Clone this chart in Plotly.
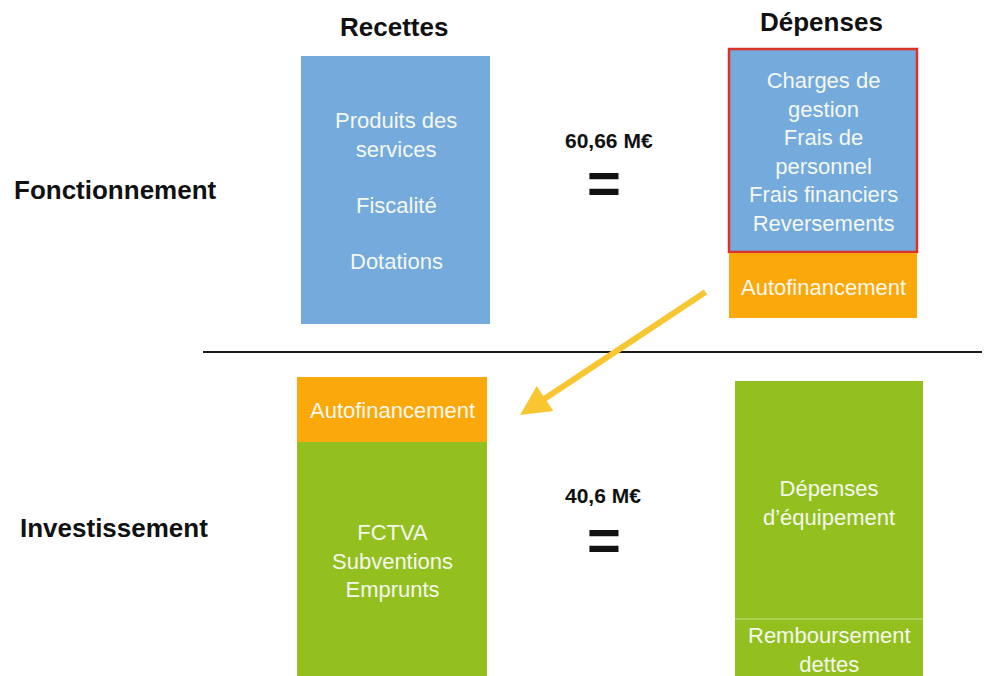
import plotly.graph_objects as go

# ---- content ----
columns = ["Recettes", "Dépenses"]
sections = ["Fonctionnement", "Investissement"]
totals = ["60,66 M€", "40,6 M€"]

recettes_fonct = ["Produits des<br>services", "Fiscalité", "Dotations"]
depenses_fonct = ["Charges de<br>gestion<br>Frais de<br>personnel<br>Frais financiers<br>Reversements", "Autofinancement"]
recettes_invest = ["Autofinancement", "FCTVA<br>Subventions<br>Emprunts"]
depenses_invest = ["Dépenses<br>d’équipement", "Remboursement<br>dettes"]

# ---- styles ----
BLUE = "#75AADC"
ORANGE = "#FBA80B"
GREEN = "#93BF1F"
RED = "#DB3129"
YELLOW = "#F8C631"
WHITE_TXT = "#F4F8EE"
FONT = "Liberation Sans, Arial, sans-serif"

W, H = 990, 676
OFF = 8  # page body margin compensation
fig = go.Figure()

shapes = []
def rect(x0, y0, x1, y1, fill, line_color=None, lw=0):
    shapes.append(dict(type="rect", xref="x", yref="y", x0=x0, y0=y0, x1=x1, y1=y1,
                       fillcolor=fill, line=dict(color=line_color or fill, width=lw), layer="below"))

# boxes (geometry)
rect(301, 56, 490, 324, BLUE)
rect(729, 49, 917, 252, BLUE, RED, 2.5)
rect(729, 253, 917, 318, ORANGE)
rect(297, 377, 487, 442, ORANGE)
rect(297, 442, 487, 690, GREEN)
rect(735, 381, 923, 690, GREEN)
shapes.append(dict(type="line", xref="x", yref="y", x0=735, x1=923, y0=619, y1=619,
                   line=dict(color="#C9E08A", width=1.2)))
# divider
shapes.append(dict(type="line", xref="x", yref="y", x0=203, x1=1000, y0=352, y1=352,
                   line=dict(color="#1a1a1a", width=2)))

ann = []
def text(x, y, s, size, color="#111111", bold=False):
    ann.append(dict(x=x, y=y, xref="x", yref="y", text=f"<b>{s}</b>" if bold else s,
                    showarrow=False, font=dict(family=FONT, size=size, color=color),
                    xanchor="center", yanchor="middle", align="center"))

# column headers
text(394, 27, columns[0], 26, bold=True)
text(821, 22, columns[1], 26, bold=True)
# section labels
text(115, 190, sections[0], 26, bold=True)
text(114, 528, sections[1], 26, bold=True)
# totals and equals
text(609, 140, totals[0], 21, bold=True)
text(604, 182, "=", 58, bold=True)
text(603, 495, totals[1], 21, bold=True)
text(604, 539, "=", 58, bold=True)

BS = 22
# recettes fonctionnement
text(396, 135, recettes_fonct[0], BS, WHITE_TXT)
text(396, 205, recettes_fonct[1], BS, WHITE_TXT)
text(396, 261, recettes_fonct[2], BS, WHITE_TXT)
# depenses fonctionnement
text(823, 152, depenses_fonct[0], BS, WHITE_TXT)
text(823, 287, depenses_fonct[1], BS, WHITE_TXT)
# recettes investissement
text(392, 410, recettes_invest[0], BS, WHITE_TXT)
text(392, 561, recettes_invest[1], BS, WHITE_TXT)
# depenses investissement
text(829, 503, depenses_invest[0], BS, WHITE_TXT)
text(829, 650, depenses_invest[1], BS, WHITE_TXT)

# arrow
ann.append(dict(x=520, y=415, ax=707, ay=291, xref="x", yref="y", axref="x", ayref="y",
                text="", showarrow=True, arrowhead=2, arrowsize=1.0, arrowwidth=6,
                arrowcolor=YELLOW))

fig.update_layout(
    width=W - OFF, height=H - OFF, autosize=False,
    margin=dict(l=0, r=0, t=0, b=0),
    paper_bgcolor="white", plot_bgcolor="white",
    xaxis=dict(range=[OFF, W], visible=False, fixedrange=True),
    yaxis=dict(range=[H, OFF], visible=False, fixedrange=True),
    shapes=shapes, annotations=ann, showlegend=False,
)
fig.write_html("out.html")
